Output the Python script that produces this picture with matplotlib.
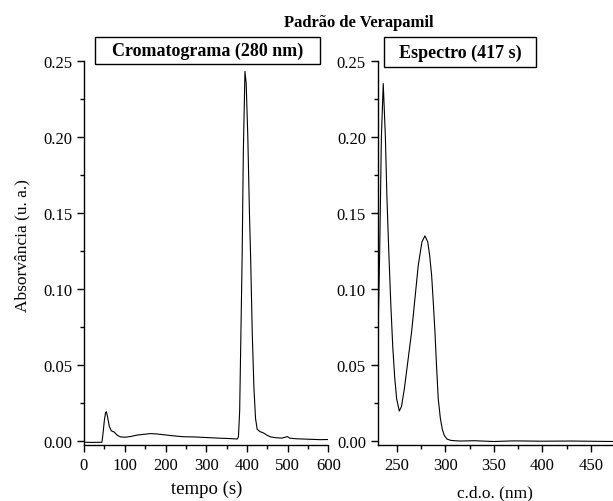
import matplotlib
matplotlib.use('Agg')
import matplotlib.pyplot as plt
from matplotlib.patches import Rectangle
from matplotlib.ticker import MultipleLocator, FormatStrFormatter

# chromatogram at 280 nm (time in s, absorbance)
tempo = [0, 20, 44, 47, 50, 53, 55, 58, 62, 67, 74, 82, 90, 100, 115, 130, 150, 164,
         180, 200, 220, 245, 270, 300, 330, 360, 376, 379, 382, 385, 388, 391, 395,
         398, 402, 406, 409, 413, 417, 421, 425, 432, 441, 450, 458, 470, 485, 499,
         505, 520, 540, 560, 580, 597, 600]
abs_crom = [-0.0005, -0.0006, -0.0005, 0.006, 0.014, 0.019, 0.0195, 0.016, 0.010, 0.007,
            0.0062, 0.004, 0.003, 0.0028, 0.0033, 0.0042, 0.0048, 0.0052, 0.0049, 0.0043,
            0.0037, 0.0031, 0.0030, 0.0026, 0.0022, 0.0019, 0.0016, 0.003, 0.02, 0.07,
            0.12, 0.19, 0.243, 0.235, 0.20, 0.15, 0.12, 0.07, 0.035, 0.015, 0.008, 0.0065,
            0.0055, 0.004, 0.003, 0.0025, 0.0022, 0.0032, 0.0022, 0.0018, 0.0016, 0.0014,
            0.0012, 0.0013, 0.0012]

# UV spectrum at 417 s (wavelength in nm, absorbance)
cdo = [231, 232.5, 234.3, 236.2, 238.4, 240, 242, 244, 246, 248, 250, 252.7, 255, 258,
       262, 265.4, 269, 272.2, 276, 279.1, 282, 284, 286, 288, 289.4, 291, 292.8, 295,
       297, 299, 302, 306, 315, 330, 350, 370, 400, 430, 473]
abs_espec = [0.075, 0.123, 0.20, 0.235, 0.20, 0.16, 0.123, 0.09, 0.062, 0.042, 0.028,
             0.020, 0.023, 0.035, 0.055, 0.072, 0.095, 0.1155, 0.131, 0.135, 0.131, 0.122,
             0.109, 0.088, 0.072, 0.050, 0.028, 0.015, 0.008, 0.004, 0.0015, 0.0007,
             0.0003, 0.0005, 0.0, 0.0004, 0.0002, 0.0003, 0.0]

plt.rcParams['font.family'] = ['Liberation Serif', 'DejaVu Serif']

fig = plt.figure(figsize=(6.13, 5.02), dpi=100)
W, H = 613.0, 502.0
ax1 = fig.add_axes([84 / W, 1 - 446 / H, (328.5 - 84) / W, (446 - 61.7) / H])
ax2 = fig.add_axes([377.7 / W, 1 - 446 / H, (613 - 377.7) / W, (446 - 61.7) / H])

ax1.plot(tempo, abs_crom, color='black', lw=0.8)
ax2.plot(cdo, abs_espec, color='black', lw=0.8)

ax1.set_xlim(0, 600)
ax2.set_xlim(230.5, 472.6)
for ax in (ax1, ax2):
    ax.set_ylim(-0.0023, 0.25)
    ax.spines['top'].set_visible(False)
    ax.spines['right'].set_visible(False)
    ax.spines['left'].set_linewidth(1.0)
    ax.spines['bottom'].set_linewidth(1.0)
    ax.yaxis.set_major_locator(MultipleLocator(0.05))
    ax.yaxis.set_minor_locator(MultipleLocator(0.025))
    ax.yaxis.set_major_formatter(FormatStrFormatter('%.2f'))
    ax.tick_params(which='major', direction='out', length=5, width=1, labelsize=12)
    ax.tick_params(which='minor', direction='out', length=3, width=1)

ax1.xaxis.set_major_locator(MultipleLocator(100))
ax1.xaxis.set_minor_locator(MultipleLocator(50))
ax2.xaxis.set_major_locator(MultipleLocator(50))
ax2.xaxis.set_minor_locator(MultipleLocator(25))

ax1.set_xlabel('tempo (s)', fontsize=13.5)
ax1.xaxis.set_label_coords(0.5, -(489 - 446) / (446 - 61.7), transform=ax1.transAxes)
ax1.xaxis.label.set_va('center')
ax2.set_xlabel('c.d.o. (nm)', fontsize=12.5)
ax2.xaxis.set_label_coords(0.5, -(493 - 446) / (446 - 61.7), transform=ax2.transAxes)
ax2.xaxis.label.set_va('center')
ax1.set_ylabel('Absorvância (u. a.)', fontsize=12.5)
ax1.yaxis.set_label_coords(-0.254, 0.522)
ax1.yaxis.label.set_va('center')

# boxed panel titles
for x0, x1, y0, y1, label in [(95, 320, 37.7, 65.3, 'Cromatograma (280 nm)'),
                              (384.3, 535.7, 38, 68, 'Espectro (417 s)')]:
    fig.patches.append(Rectangle((x0 / W, 1 - y1 / H), (x1 - x0) / W, (y1 - y0) / H,
                                 transform=fig.transFigure, fc='white', ec='black',
                                 lw=1, zorder=5))
    fig.text((x0 + x1) / 2 / W, 1 - (y0 + y1) / 2 / H, label, fontsize=13,
             weight='bold', ha='center', va='center', zorder=6)

fig.text(358.5 / W, 1 - 23 / H, 'Padrão de Verapamil', fontsize=12, weight='bold',
         ha='center', va='center')

fig.savefig('out.png', dpi=100)
